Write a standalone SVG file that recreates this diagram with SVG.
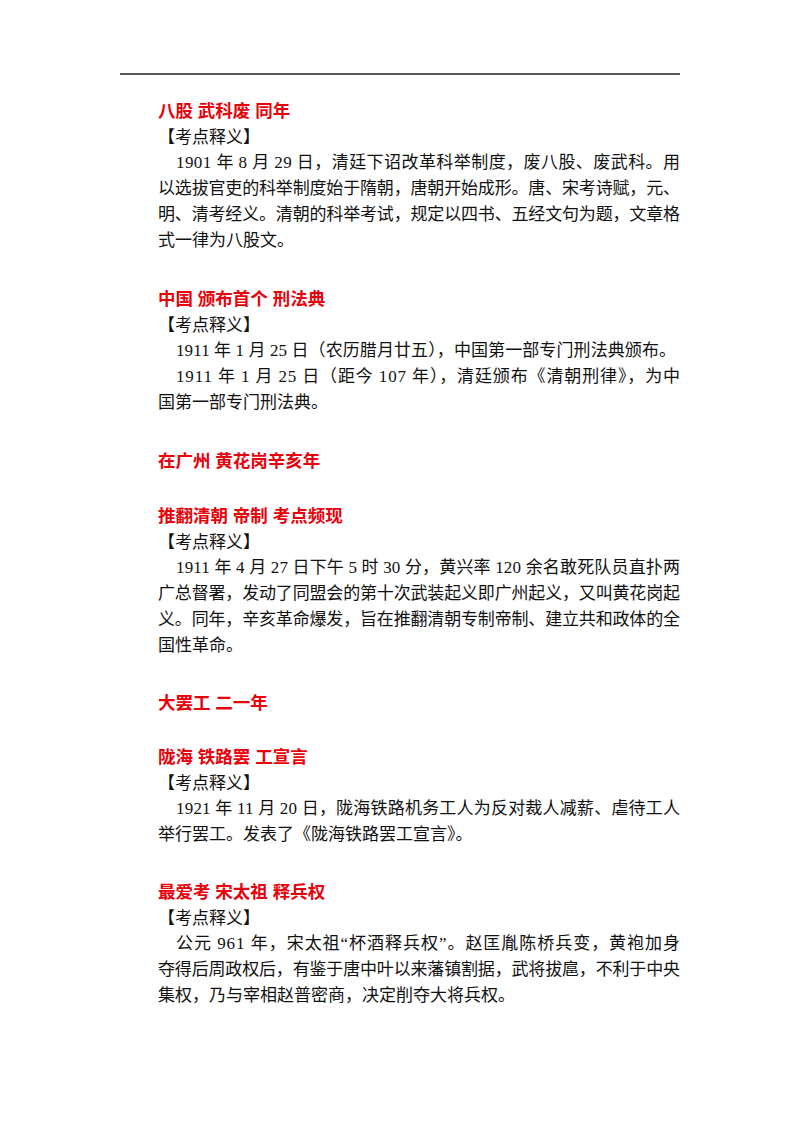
<svg xmlns="http://www.w3.org/2000/svg" width="800" height="1132" viewBox="0 0 800 1132">
<style>
text{font-family:"Liberation Serif","Noto Sans CJK SC",serif;font-size:17px;fill:#111}
.h{fill:#e8000b;font-weight:bold;font-size:17.5px;font-family:"Liberation Sans","Noto Sans CJK SC",sans-serif}
</style>
<rect width="800" height="1132" fill="#fff"/>
<line x1="120" y1="74" x2="680" y2="74" stroke="#222" stroke-width="1.3"/>
<text class="h" x="158" y="117">八股 武科废 同年</text>
<text x="158" y="143">【考点释义】</text>
<text x="176" y="168" textLength="504" lengthAdjust="spacing">1901 年 8 月 29 日，清廷下诏改革科举制度，废八股、废武科。用</text>
<text x="158" y="194" textLength="522" lengthAdjust="spacing">以选拔官吏的科举制度始于隋朝，唐朝开始成形。唐、宋考诗赋，元、</text>
<text x="158" y="220" textLength="522" lengthAdjust="spacing">明、清考经义。清朝的科举考试，规定以四书、五经文句为题，文章格</text>
<text x="158" y="246">式一律为八股文。</text>
<text class="h" x="158" y="305">中国 颁布首个 刑法典</text>
<text x="158" y="331">【考点释义】</text>
<text x="176" y="356" textLength="500" lengthAdjust="spacing">1911 年 1 月 25 日（农历腊月廿五），中国第一部专门刑法典颁布。</text>
<text x="176" y="382" textLength="504" lengthAdjust="spacing">1911 年 1 月 25 日（距今 107 年），清廷颁布《清朝刑律》，为中</text>
<text x="158" y="408">国第一部专门刑法典。</text>
<text class="h" x="158" y="467">在广州 黄花岗辛亥年</text>
<text class="h" x="158" y="522">推翻清朝 帝制 考点频现</text>
<text x="158" y="548">【考点释义】</text>
<text x="176" y="573" textLength="504" lengthAdjust="spacing">1911 年 4 月 27 日下午 5 时 30 分，黄兴率 120 余名敢死队员直扑两</text>
<text x="158" y="599" textLength="522" lengthAdjust="spacing">广总督署，发动了同盟会的第十次武装起义即广州起义，又叫黄花岗起</text>
<text x="158" y="625" textLength="522" lengthAdjust="spacing">义。同年，辛亥革命爆发，旨在推翻清朝专制帝制、建立共和政体的全</text>
<text x="158" y="651">国性革命。</text>
<text class="h" x="158" y="709">大罢工 二一年</text>
<text class="h" x="158" y="763">陇海 铁路罢 工宣言</text>
<text x="158" y="789">【考点释义】</text>
<text x="176" y="814" textLength="504" lengthAdjust="spacing">1921 年 11 月 20 日，陇海铁路机务工人为反对裁人减薪、虐待工人</text>
<text x="158" y="840">举行罢工。发表了《陇海铁路罢工宣言》。</text>
<text class="h" x="158" y="898">最爱考 宋太祖 释兵权</text>
<text x="158" y="924">【考点释义】</text>
<text x="176" y="949" textLength="504" lengthAdjust="spacing">公元 961 年，宋太祖“杯酒释兵权”。赵匡胤陈桥兵变，黄袍加身</text>
<text x="158" y="975" textLength="522" lengthAdjust="spacing">夺得后周政权后，有鉴于唐中叶以来藩镇割据，武将拔扈，不利于中央</text>
<text x="158" y="1001">集权，乃与宰相赵普密商，决定削夺大将兵权。</text>
</svg>
